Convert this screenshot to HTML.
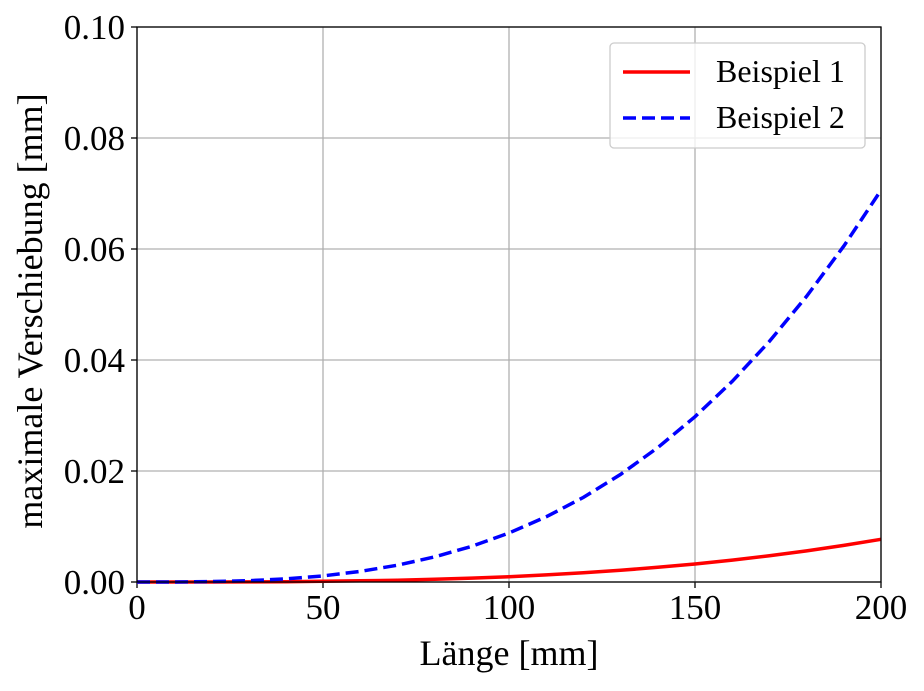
<!DOCTYPE html>
<html><head><meta charset="utf-8"><style>
body{margin:0;background:#fff}
text{font-family:"Liberation Serif",serif;fill:#000}
</style></head><body>
<svg id="c" width="924" height="686" xmlns="http://www.w3.org/2000/svg"></svg>
<script>
const xs=[0,10,20,30,40,50,60,70,80,90,100,110,120,130,140,150,160,170,180,190,200];
const series1=[0,0.000001,0.0000077,0.000026,0.0000616,0.00012,0.000208,0.00033,0.000493,0.000702,0.00096,0.00128,0.00166,0.00211,0.00264,0.00325,0.00394,0.00473,0.00561,0.0066,0.0077];
const series2=[0,0.0000088,0.0000706,0.000238,0.000565,0.0011,0.00191,0.00303,0.00452,0.00643,0.00883,0.01175,0.01525,0.01939,0.02422,0.02978,0.03615,0.04336,0.05147,0.06053,0.0706];
const xTicks=[0,50,100,150,200];
const yTicks=[0,0.02,0.04,0.06,0.08,0.10];
const yTickLabels=["0.00","0.02","0.04","0.06","0.08","0.10"];
const L=137,R=881,T=27,B=582;
const sx=v=>L+(v-0)/(200-0)*(R-L);
const sy=v=>B-(v-0)/(0.1-0)*(B-T);
const svg=document.getElementById('c');const NS="http://www.w3.org/2000/svg";
function mk(t,a,p){const e=document.createElementNS(NS,t);for(const k in a)e.setAttribute(k,a[k]);(p||svg).appendChild(e);return e;}
xTicks.forEach(v=>{
 const g=mk('line',{x1:sx(v),x2:sx(v),y1:T,y2:B,stroke:'#b0b0b0','stroke-width':1.3});
 
 
 const tk=mk('line',{x1:sx(v),x2:sx(v),y1:B,y2:B+6,stroke:'#000','stroke-width':1.3});
 
 
 const t=mk('text',{x:sx(v),y:B+37,'text-anchor':'middle','font-size':35});t.textContent=v;
 
 
});
yTicks.forEach((v,i)=>{
 const g=mk('line',{x1:L,x2:R,y1:sy(v),y2:sy(v),stroke:'#b0b0b0','stroke-width':1.3});
 
 
 const tk=mk('line',{x1:L-6,x2:L,y1:sy(v),y2:sy(v),stroke:'#000','stroke-width':1.3});
 
 
 const t=mk('text',{x:L-12,y:sy(v)+12,'text-anchor':'end','font-size':35});t.textContent=yTickLabels[i];
 
 
});
function path(ys){return xs.map((x,i)=>(i?'L':'M')+sx(x).toFixed(1)+' '+sy(ys[i]).toFixed(1)).join(' ');}
const p1=mk('path',{d:path(series1),fill:'none',stroke:'#ff0000','stroke-width':3.5});


const p2=mk('path',{d:path(series2),fill:'none',stroke:'#0000ff','stroke-width':3.5,'stroke-dasharray':'13 6'});


const fr=mk('rect',{x:L,y:T,width:R-L,height:B-T,fill:'none',stroke:'#000','stroke-width':1.3});


const xl=mk('text',{x:509,y:665,'text-anchor':'middle','font-size':36});xl.textContent='Länge [mm]';


const yl=mk('text',{x:0,y:0,'text-anchor':'middle','font-size':36,transform:'translate(42,311) rotate(-90)'});yl.textContent='maximale Verschiebung [mm]';


const lg=mk('g',{});


mk('rect',{x:610,y:43,width:255,height:105,rx:4,fill:'#fff','fill-opacity':0.8,stroke:'#cccccc','stroke-width':1.3},lg);
const le1=mk('line',{x1:623,x2:690,y1:72,y2:72,stroke:'#ff0000','stroke-width':3.5},lg);


const lt1=mk('text',{x:716,y:82,'font-size':32},lg);lt1.textContent='Beispiel 1';


const le2=mk('line',{x1:623,x2:690,y1:118,y2:118,stroke:'#0000ff','stroke-width':3.5,'stroke-dasharray':'13 6'},lg);


const lt2=mk('text',{x:716,y:128,'font-size':32},lg);lt2.textContent='Beispiel 2';


</script>
</body></html>
